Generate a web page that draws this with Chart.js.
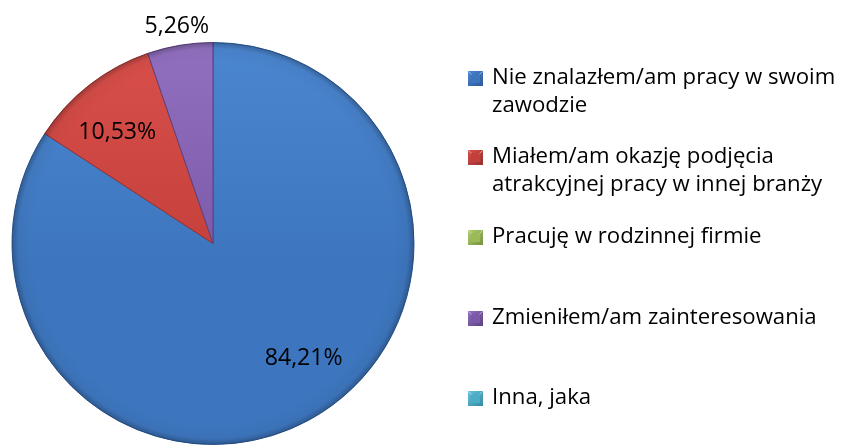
<!DOCTYPE html>
<html>
<head>
<meta charset="utf-8">
<script src="https://cdn.jsdelivr.net/npm/chart.js@4"></script>
<style>
  html, body { margin: 0; padding: 0; background: #fff; }
  #wrap { width: 855px; height: 445px; }
</style>
</head>
<body>
<div id="wrap"><canvas id="pieChart" width="855" height="445"></canvas></div>
<script>
// data (percent of answers)
const categories = [
  ['Nie znalazłem/am pracy w swoim', 'zawodzie'],
  ['Miałem/am okazję podjęcia', 'atrakcyjnej pracy w innej branży'],
  ['Pracuję w rodzinnej firmie'],
  ['Zmieniłem/am zainteresowania'],
  ['Inna, jaka']
];
const shares = [84.21, 10.53, 0, 5.26, 0];

const baseColors = ['#3D76BE', '#C43F3B', '#9BBB59', '#7C58A8', '#4BACC6'];
const lightColors = ['#4B86D0', '#D9504B', '#B0D070', '#9270C0', '#66C2DA'];
const edgeColors = ['#2D5A98', '#962F2C', '#76913F', '#5C4180', '#338AA1'];

const FONT_FAMILY = '"Open Sans", "Noto Sans", "DejaVu Sans", sans-serif';

function fmtPct(v) {
  return v.toFixed(2).replace('.', ',') + '%';
}

function sliceFill(context) {
  const i = context.dataIndex;
  const chart = context.chart;
  const area = chart.chartArea;
  if (!area) return baseColors[i];
  const cx = (area.left + area.right) / 2;
  const cy = (area.top + area.bottom) / 2;
  const r = Math.min(area.right - area.left, area.bottom - area.top) / 2;
  const g = chart.ctx.createLinearGradient(cx, cy - r, cx, cy + r);
  g.addColorStop(0, lightColors[i]);
  g.addColorStop(0.55, baseColors[i]);
  g.addColorStop(1, baseColors[i]);
  return g;
}

// fit a font size so a text gets the width it has in the picture
function fitFontSize(ctx, text, targetWidth) {
  ctx.save();
  ctx.font = '20px ' + FONT_FAMILY;
  const w = ctx.measureText(text).width;
  ctx.restore();
  return Math.round(20 * targetWidth / w * 10) / 10;
}

const pieRim = {
  id: 'pieRim',
  afterDatasetsDraw(chart) {
    // soft dark rim round the pie, like the bevel in the picture
    const meta = chart.getDatasetMeta(0);
    const arc = meta.data[0];
    if (!arc) return;
    const p = arc.getProps(['x', 'y', 'outerRadius'], true);
    const ctx = chart.ctx;
    ctx.save();
    const g = ctx.createRadialGradient(p.x, p.y, p.outerRadius * 0.9, p.x, p.y, p.outerRadius);
    g.addColorStop(0, 'rgba(0,0,0,0)');
    g.addColorStop(0.7, 'rgba(0,0,0,0.04)');
    g.addColorStop(1, 'rgba(0,0,0,0.25)');
    ctx.fillStyle = g;
    ctx.beginPath();
    ctx.arc(p.x, p.y, p.outerRadius, 0, Math.PI * 2);
    ctx.fill();
    ctx.restore();
  }
};

const sliceLabels = {
  id: 'sliceLabels',
  afterDatasetsDraw(chart) {
    const ctx = chart.ctx;
    const meta = chart.getDatasetMeta(0);
    const size = fitFontSize(ctx, '84,21%', 78);
    ctx.save();
    ctx.font = size + 'px ' + FONT_FAMILY;
    ctx.fillStyle = '#000';
    ctx.textAlign = 'center';
    ctx.textBaseline = 'middle';
    meta.data.forEach((arc, i) => {
      const v = shares[i];
      if (!v) return;
      const p = arc.getProps(['x', 'y', 'startAngle', 'endAngle', 'outerRadius'], true);
      let mid = (p.startAngle + p.endAngle) / 2;
      let dist = p.outerRadius * 0.73;
      if (v < 8) {
        dist = p.outerRadius + 19;
      } else if (v > 50) {
        mid -= 0.17;
      } else {
        mid -= 0.05;
      }
      ctx.fillText(fmtPct(v), p.x + Math.cos(mid) * dist, p.y + Math.sin(mid) * dist);
    });
    ctx.restore();
  }
};

const sideLegend = {
  id: 'sideLegend',
  afterDraw(chart, args, opts) {
    const ctx = chart.ctx;
    const size = fitFontSize(ctx, 'Nie znalazłem/am pracy w swoim', 343);
    ctx.save();
    ctx.font = size + 'px ' + FONT_FAMILY;
    ctx.textBaseline = 'middle';
    ctx.textAlign = 'left';
    chart.data.labels.forEach((lines, i) => {
      const y = opts.rows[i];
      const bx = opts.x, by = Math.round(y - opts.box / 2), s = opts.box;
      // bevelled square marker
      const g = ctx.createLinearGradient(bx, by, bx + s, by + s);
      g.addColorStop(0, lightColors[i]);
      g.addColorStop(1, edgeColors[i]);
      ctx.fillStyle = g;
      ctx.fillRect(bx, by, s, s);
      ctx.fillStyle = baseColors[i];
      ctx.fillRect(bx + 3, by + 3, s - 6, s - 6);
      ctx.strokeStyle = 'rgba(255,255,255,0.5)';
      ctx.lineWidth = 1;
      ctx.beginPath();
      ctx.moveTo(bx + 0.5, by + 0.5); ctx.lineTo(bx + 3.5, by + 3.5);
      ctx.moveTo(bx + s - 0.5, by + 0.5); ctx.lineTo(bx + s - 3.5, by + 3.5);
      ctx.stroke();
      ctx.fillStyle = '#000';
      lines.forEach((line, k) => {
        ctx.fillText(line, opts.textX, y + k * opts.lineHeight);
      });
    });
    ctx.restore();
  }
};

new Chart(document.getElementById('pieChart').getContext('2d'), {
  type: 'pie',
  data: {
    labels: categories,
    datasets: [{
      data: shares,
      backgroundColor: sliceFill,
      borderColor: ctx => edgeColors[ctx.dataIndex],
      borderWidth: 1
    }]
  },
  options: {
    responsive: false,
    animation: false,
    layout: {
      padding: { left: 11, right: 440, top: 42, bottom: 0 }
    },
    plugins: {
      legend: { display: false },
      tooltip: { enabled: false },
      sideLegend: {
        x: 468,
        box: 15,
        textX: 492,
        lineHeight: 28,
        rows: [78, 157, 237, 318, 398]
      }
    }
  },
  plugins: [pieRim, sliceLabels, sideLegend]
});
</script>
</body>
</html>
